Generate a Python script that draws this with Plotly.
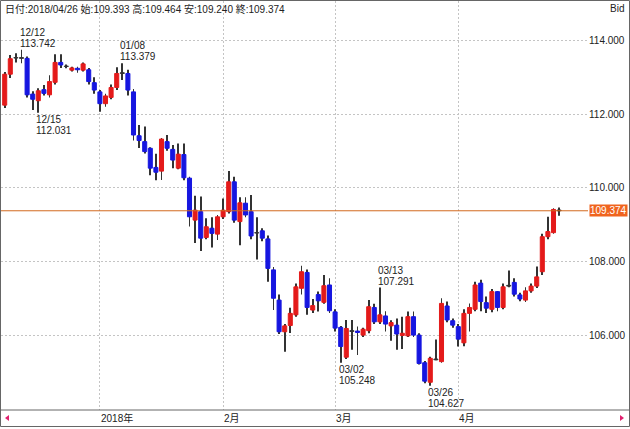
import plotly.graph_objects as go

dates = [
    "2017/12/07", "2017/12/08", "2017/12/11", "2017/12/12", "2017/12/13", "2017/12/14", "2017/12/15",
    "2017/12/18", "2017/12/19", "2017/12/20", "2017/12/21", "2017/12/22", "2017/12/25", "2017/12/26",
    "2017/12/27", "2017/12/28", "2017/12/29",
    "2018/01/02", "2018/01/03", "2018/01/04", "2018/01/05", "2018/01/08", "2018/01/09", "2018/01/10",
    "2018/01/11", "2018/01/12", "2018/01/15", "2018/01/16", "2018/01/17", "2018/01/18", "2018/01/19",
    "2018/01/22", "2018/01/23", "2018/01/24", "2018/01/25", "2018/01/26", "2018/01/29", "2018/01/30",
    "2018/01/31",
    "2018/02/01", "2018/02/02", "2018/02/05", "2018/02/06", "2018/02/07", "2018/02/08", "2018/02/09",
    "2018/02/12", "2018/02/13", "2018/02/14", "2018/02/15", "2018/02/16", "2018/02/19", "2018/02/20",
    "2018/02/21", "2018/02/22", "2018/02/23", "2018/02/26", "2018/02/27", "2018/02/28",
    "2018/03/01", "2018/03/02", "2018/03/05", "2018/03/06", "2018/03/07", "2018/03/08", "2018/03/09",
    "2018/03/12", "2018/03/13", "2018/03/14", "2018/03/15", "2018/03/16", "2018/03/19", "2018/03/20",
    "2018/03/21", "2018/03/22", "2018/03/23", "2018/03/26", "2018/03/27", "2018/03/28", "2018/03/29",
    "2018/03/30",
    "2018/04/02", "2018/04/03", "2018/04/04", "2018/04/05", "2018/04/06", "2018/04/09", "2018/04/10",
    "2018/04/11", "2018/04/12", "2018/04/13", "2018/04/16", "2018/04/17", "2018/04/18", "2018/04/19",
    "2018/04/20", "2018/04/23", "2018/04/24", "2018/04/25", "2018/04/26",
]

open_ = [
    112.24, 113.08, 113.52, 113.53, 113.51, 112.54, 112.36, 112.66, 112.52, 112.86,
    113.40, 113.30, 113.19, 113.24, 113.19, 113.20, 112.85, 112.60, 112.28, 112.45,
    112.72, 113.10, 113.10, 112.60, 111.41, 111.25, 111.07, 110.55, 110.45, 111.25,
    111.04, 110.53, 110.90, 110.26, 109.12, 109.35, 108.65, 108.90, 108.74, 109.21,
    109.35, 110.16, 109.08, 109.58, 109.35, 108.78, 108.83, 108.61, 107.77, 106.95,
    106.09, 106.26, 106.55, 107.27, 107.70, 106.68, 107.10, 106.89, 107.36, 106.63,
    106.21, 105.40, 106.12, 106.11, 106.00, 106.12, 106.75, 106.36, 106.52, 106.25,
    106.27, 105.99, 105.98, 106.50, 106.00, 105.25, 104.72, 105.35, 105.28, 106.79,
    106.39, 106.23, 105.79, 106.59, 106.70, 107.41, 106.88, 106.70, 107.18, 106.75,
    107.33, 107.43, 107.09, 106.95, 107.20, 107.33, 107.72, 108.67, 108.78, 109.393,
]
high = [
    113.14, 113.60, 113.65, 113.742, 113.56, 112.62, 112.70, 112.79, 113.05, 113.62,
    113.62, 113.34, 113.28, 113.28, 113.40, 113.25, 113.00, 112.65, 112.55, 112.80,
    113.27, 113.379, 113.20, 112.68, 111.70, 111.66, 111.10, 110.92, 111.35, 111.43,
    111.16, 111.20, 111.20, 110.30, 109.78, 109.76, 109.17, 109.20, 109.26, 109.71,
    110.45, 110.30, 109.74, 109.74, 109.80, 109.20, 108.90, 108.70, 107.85, 107.10,
    106.30, 106.74, 107.40, 107.88, 107.78, 106.98, 107.18, 107.63, 107.54, 106.70,
    106.25, 106.41, 106.41, 106.23, 106.20, 106.95, 106.85, 107.291, 106.65, 106.40,
    106.45, 106.50, 106.64, 106.64, 106.05, 105.30, 105.41, 105.88, 107.00, 106.91,
    106.45, 106.30, 106.70, 106.86, 107.45, 107.50, 107.05, 107.25, 107.20, 107.40,
    107.75, 107.54, 107.15, 107.30, 107.40, 107.86, 108.75, 109.21, 109.44, 109.464,
]
low = [
    112.16, 112.98, 113.40, 113.38, 112.45, 112.11, 112.031, 112.50, 112.45, 112.80,
    113.25, 113.24, 113.15, 113.12, 113.15, 112.80, 112.55, 112.06, 112.20, 112.40,
    112.65, 112.92, 112.50, 111.28, 111.08, 110.93, 110.34, 110.20, 110.21, 111.00,
    110.53, 110.50, 110.20, 108.95, 108.50, 108.28, 108.60, 108.38, 108.58, 109.15,
    109.30, 109.05, 108.44, 109.20, 108.60, 108.05, 108.55, 107.45, 106.68, 106.03,
    105.55, 106.06, 106.50, 107.10, 106.55, 106.60, 106.64, 106.85, 106.60, 106.10,
    105.248, 105.35, 105.60, 105.46, 105.95, 106.05, 106.30, 106.30, 106.10, 105.85,
    105.60, 105.62, 105.95, 105.95, 105.20, 104.69, 104.627, 105.32, 105.25, 106.35,
    106.20, 105.69, 105.70, 106.10, 106.65, 106.65, 106.60, 106.62, 106.65, 106.70,
    107.30, 107.05, 106.92, 106.90, 107.15, 107.28, 107.63, 108.60, 108.75, 109.240,
]
close = [
    113.08, 113.50, 113.53, 113.51, 112.52, 112.40, 112.63, 112.56, 112.88, 113.40,
    113.33, 113.29, 113.25, 113.20, 113.36, 112.88, 112.65, 112.28, 112.49, 112.72,
    113.10, 113.12, 112.65, 111.43, 111.28, 110.98, 110.53, 110.42, 111.32, 111.07,
    110.75, 110.91, 110.27, 109.21, 109.39, 108.63, 108.94, 108.76, 109.21, 109.39,
    110.16, 109.12, 109.59, 109.26, 108.69, 108.77, 108.63, 107.81, 107.00, 106.09,
    106.25, 106.59, 107.31, 107.72, 106.75, 106.80, 106.93, 107.34, 106.66, 106.19,
    105.69, 106.18, 106.10, 106.07, 106.16, 106.77, 106.36, 106.55, 106.30, 106.34,
    106.03, 106.05, 106.50, 106.00, 105.23, 104.75, 105.37, 105.33, 106.86, 106.41,
    106.27, 105.89, 106.59, 106.75, 107.36, 106.91, 106.73, 107.18, 106.75, 107.31,
    107.35, 107.11, 106.98, 107.20, 107.33, 107.58, 108.67, 108.81, 109.41, 109.374,
]

# marked extremes: (candle index, which price)
marked = [(3, "high"), (6, "low"), (21, "high"), (60, "low"), (67, "high"), (76, "low")]
y_ticks = [106, 108, 110, 112, 114]

FONT = "Liberation Sans, Arial, Noto Sans CJK JP, sans-serif"
UP = "#e41a1a"
DOWN = "#1616e0"
DOJI = "#333333"

n = len(dates)
idx = list(range(n))
body_base = [min(o, c) for o, c in zip(open_, close)]
body_h = [abs(c - o) for o, c in zip(open_, close)]
colors = [DOJI if abs(c - o) < 0.03 else (UP if c > o else DOWN) for o, c in zip(open_, close)]

fig = go.Figure()
# wicks
fig.add_trace(go.Bar(x=idx, base=low, y=[h - l for h, l in zip(high, low)], width=0.17,
                     marker=dict(color="#333333", line=dict(width=0)), hoverinfo="skip"))
# bodies
fig.add_trace(go.Bar(x=idx, base=body_base, y=body_h, width=0.72,
                     marker=dict(color=colors, line=dict(color=colors, width=1)), hoverinfo="skip"))

# pixel geometry helpers (plot area x 1..588, y 1..410)
PX_L, PX_R, PY_T, PY_B = 1, 588, 1, 410
def paper_x(px):
    return (px - PX_L) / (PX_R - PX_L)
def paper_y(py):
    return (PY_B - py) / (PY_B - PY_T)

annotations = []
# header
last = n - 1
annotations.append(dict(
    xref="paper", yref="paper", x=0, y=1, xanchor="left", yanchor="top", xshift=3, yshift=-1,
    text=f"日付:{dates[last]} 始:{open_[last]:.3f} 高:{high[last]:.3f} 安:{low[last]:.3f} 終:{close[last]:.3f}",
    showarrow=False, font=dict(family=FONT, size=10, color="#222"), borderpad=0))
annotations.append(dict(
    xref="paper", yref="paper", x=paper_x(625), y=paper_y(8), xanchor="right", yanchor="middle",
    text="Bid", showarrow=False, font=dict(family=FONT, size=10, color="#222"), borderpad=0))

# extremes
for i, kind in marked:
    mmdd = dates[i][5:]
    val = high[i] if kind == "high" else low[i]
    if kind == "high":
        shifts = [(mmdd, 11, "bottom"), (f"{val:.3f}", 0, "bottom")]
    else:
        shifts = [(mmdd, 0, "top"), (f"{val:.3f}", -11, "top")]
    for txt, ys, ya in shifts:
        annotations.append(dict(x=i, y=val, xanchor="left", yanchor=ya, xshift=-3, yshift=ys,
                                text=txt, showarrow=False, borderpad=0,
                                font=dict(family=FONT, size=10, color="#222")))

# month boundaries
month_idx = [i for i in range(1, n) if dates[i][5:7] != dates[i - 1][5:7]]
for i in month_idx:
    m = int(dates[i][5:7])
    label = f"{dates[i][:4]}年" if m == 1 else f"{m}月"
    annotations.append(dict(x=i, xref="x", yref="paper", y=paper_y(418), xanchor="left",
                            yanchor="middle", text=label, showarrow=False, borderpad=0,
                            font=dict(family=FONT, size=10, color="#222")))

# current price label
annotations.append(dict(xref="paper", x=1, y=close[last], xanchor="left", yanchor="middle",
                        xshift=1, text=f"{close[last]:.3f}", showarrow=False, bgcolor="#f0641e",
                        borderpad=0, font=dict(family=FONT, size=10, color="white")))


def tri(points):
    p = [f"{paper_x(x):.5f},{paper_y(y):.5f}" for x, y in points]
    return "M " + " L ".join(p) + " Z"


shapes = [
    dict(type="line", xref="paper", yref="y", x0=0, x1=1, y0=close[last], y1=close[last],
         line=dict(color="#d2691e", width=1)),
    dict(type="rect", xref="paper", yref="paper", x0=paper_x(0.5), x1=paper_x(629.5),
         y0=paper_y(426.5), y1=paper_y(0.5), line=dict(color="#666", width=1)),
    dict(type="line", xref="paper", yref="paper", x0=paper_x(0.5), x1=paper_x(629.5),
         y0=0, y1=0, line=dict(color="#666", width=1)),
    # scroll arrows
    dict(type="path", xref="paper", yref="paper", path=tri([(5, 418), (9, 415), (9, 421)]),
         fillcolor="#e0206e", line=dict(width=0)),
    dict(type="path", xref="paper", yref="paper", path=tri([(624, 418), (620, 415), (620, 421)]),
         fillcolor="#e0206e", line=dict(width=0)),
]

x_lo = (PX_L - 4.7) / 5.6
x_hi = (PX_R - 4.7) / 5.6
y_lo = 114 - (PY_B - 40.3) / 36.85
y_hi = 114 + (40.3 - PY_T) / 36.85

fig.update_layout(
    width=630, height=429,
    margin=dict(l=PX_L, r=630 - PX_R, t=PY_T, b=429 - PY_B, pad=0),
    paper_bgcolor="white", plot_bgcolor="white",
    barmode="overlay", showlegend=False,
    annotations=annotations, shapes=shapes,
    xaxis=dict(range=[x_lo, x_hi], tickvals=month_idx, showticklabels=False, ticks="",
               showgrid=True, gridcolor="#c4c4c4", griddash="2px,2px", gridwidth=1,
               zeroline=False, showline=False, fixedrange=True),
    yaxis=dict(range=[y_lo, y_hi], side="right", tickvals=y_ticks,
               ticktext=[f"{v:.3f}" for v in y_ticks], ticks="",
               showgrid=True, gridcolor="#c4c4c4", griddash="2px,2px", gridwidth=1,
               zeroline=False, showline=False, fixedrange=True,
               tickfont=dict(family=FONT, size=10, color="#222")),
)

fig.write_html("out.html", config={"displayModeBar": False},
               post_script="document.body.style.margin='0';document.body.style.padding='0';")
